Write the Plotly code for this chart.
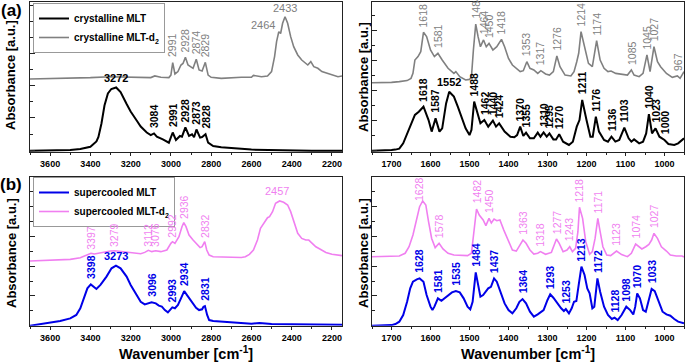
import numpy as np
import plotly.graph_objects as go

# ---------------- data (wavenumber in cm-1, absorbance in a.u.) ----------------
# (a) left: crystalline MLT (black)
tl_black_wn = [3700, 3600, 3500, 3450, 3400, 3370, 3360, 3345, 3330, 3313, 3296, 3272, 3250, 3220, 3200,
               3170, 3150, 3120, 3100, 3084, 3070, 3040, 3010, 2991, 2975, 2955, 2945, 2928, 2910, 2895,
               2885, 2873, 2855, 2845, 2828, 2815, 2790, 2750, 2700, 2650, 2600, 2500, 2400, 2300, 2150]
tl_black_abs = [0.9, 1.1, 1.3, 2.0, 3.5, 7.0, 10.0, 19.0, 31.0, 39.0, 42.0, 43.0, 40.0, 32.0, 27.0,
                21.0, 17.0, 13.0, 11.3, 12.4, 10.2, 8.4, 6.2, 13.0, 8.0, 10.7, 10.2, 16.4, 10.7, 11.8,
                9.8, 15.0, 9.6, 10.0, 11.8, 6.2, 4.0, 3.1, 2.4, 2.2, 1.6, 1.3, 1.1, 0.9, 0.9]
# (a) left: crystalline MLT-d2 (gray)
tl_gray_wn = [3700, 3600, 3500, 3400, 3300, 3200, 3100, 3080, 3050, 3010, 3000, 2991, 2980, 2965, 2950,
              2940, 2928, 2915, 2900, 2890, 2874, 2860, 2845, 2829, 2815, 2800, 2750, 2700, 2650, 2600,
              2590, 2550, 2520, 2500, 2485, 2475, 2464, 2455, 2445, 2433, 2420, 2405, 2390, 2370, 2350,
              2320, 2305, 2290, 2270, 2250, 2200, 2170, 2150]
tl_gray_abs = [48.7, 48.9, 49.3, 49.6, 50.2, 49.8, 49.6, 50.7, 49.8, 49.6, 51.3, 59.6, 52.0, 53.6, 58.0,
               59.0, 63.1, 58.0, 56.9, 55.8, 61.8, 54.7, 54.0, 59.8, 51.3, 49.8, 49.1, 49.6, 49.8, 49.8,
               51.1, 50.2, 50.7, 53.6, 63.6, 73.6, 80.2, 79.0, 85.8, 90.2, 85.8, 76.9, 70.2, 64.7, 61.3,
               58.0, 60.2, 56.9, 55.8, 53.6, 51.3, 50.2, 50.7]

# (a) right: crystalline MLT (black)
tr_black_wn = [1750, 1720, 1700, 1690, 1680, 1670, 1660, 1650, 1640, 1630, 1618, 1605, 1597, 1587, 1577,
               1570, 1560, 1552, 1540, 1530, 1520, 1510, 1500, 1495, 1488, 1480, 1472, 1462, 1452, 1440,
               1432, 1424, 1410, 1395, 1385, 1378, 1370, 1362, 1355, 1345, 1335, 1325, 1318, 1310, 1302,
               1295, 1285, 1278, 1270, 1260, 1245, 1235, 1225, 1218, 1211, 1200, 1190, 1184, 1176, 1168,
               1155, 1145, 1136, 1126, 1116, 1103, 1092, 1085, 1078, 1065, 1055, 1047, 1040, 1032, 1023,
               1013, 1000, 990, 975, 965, 955, 950]
tr_black_abs = [0.9, 0.9, 1.3, 1.6, 2.2, 5.8, 12.4, 19.1, 24.7, 26.9, 30.2, 21.3, 13.6, 22.4, 13.6,
                15.8, 32.4, 40.2, 36.9, 30.2, 22.4, 15.8, 11.3, 14.7, 33.6, 25.8, 19.1, 21.3, 16.9, 20.9,
                16.9, 19.1, 13.6, 10.2, 9.8, 11.3, 16.9, 10.7, 12.9, 9.1, 9.1, 12.9, 10.2, 13.1, 10.2,
                12.4, 8.4, 8.4, 11.8, 6.9, 4.7, 6.9, 16.9, 21.3, 34.7, 21.3, 10.2, 10.2, 23.6, 13.6,
                8.0, 6.9, 10.2, 6.9, 8.0, 16.2, 9.1, 6.9, 8.4, 5.8, 6.9, 12.4, 25.3, 12.4, 15.8,
                10.2, 8.0, 5.3, 4.7, 5.8, 8.4, 9.1]
# (a) right: crystalline MLT-d2 (gray)
tr_gray_wn = [1750, 1720, 1700, 1680, 1660, 1650, 1645, 1640, 1632, 1625, 1618, 1610, 1600, 1590, 1581,
              1570, 1555, 1540, 1535, 1525, 1510, 1500, 1495, 1490, 1484, 1478, 1472, 1464, 1457, 1450,
              1440, 1430, 1418, 1410, 1400, 1390, 1380, 1370, 1362, 1353, 1345, 1335, 1325, 1317, 1305,
              1295, 1285, 1276, 1268, 1255, 1240, 1232, 1225, 1220, 1214, 1205, 1195, 1185, 1174, 1165,
              1155, 1145, 1137, 1125, 1110, 1095, 1085, 1078, 1065, 1055, 1045, 1037, 1027, 1018, 1010,
              995, 980, 967, 960, 955, 950]
tr_gray_abs = [46.2, 46.2, 46.4, 46.9, 47.6, 49.1, 52.4, 61.3, 63.6, 66.9, 79.8, 76.9, 68.0, 63.6, 65.8,
               61.3, 55.8, 52.4, 53.6, 50.2, 48.0, 48.4, 50.2, 68.0, 85.3, 76.9, 70.2, 74.7, 70.2, 72.4,
               68.0, 70.2, 75.1, 70.2, 62.4, 58.0, 55.8, 53.6, 54.2, 60.2, 55.8, 54.7, 52.4, 54.2, 52.0,
               51.3, 53.6, 64.0, 56.9, 51.3, 50.7, 53.6, 60.2, 65.8, 80.2, 70.2, 59.1, 56.9, 74.2, 61.3,
               55.8, 53.6, 54.0, 52.4, 52.0, 51.3, 54.7, 51.3, 50.2, 52.4, 64.7, 53.6, 70.2, 60.2, 56.9,
               52.4, 49.8, 50.7, 49.1, 51.3, 53.6]

# (b) left: supercooled MLT (blue)
bl_blue_wn = [3700, 3650, 3600, 3550, 3500, 3470, 3450, 3430, 3415, 3398, 3385, 3370, 3350, 3320, 3295,
              3273, 3250, 3220, 3200, 3170, 3150, 3130, 3110, 3096, 3075, 3060, 3045, 3030, 3015, 3005,
              2993, 2980, 2965, 2950, 2934, 2920, 2905, 2890, 2875, 2860, 2845, 2838, 2831, 2820, 2810,
              2790, 2750, 2700, 2650, 2600, 2560, 2500, 2400, 2300, 2150]
bl_blue_abs = [0.0, 0.9, 2.2, 3.1, 4.9, 7.2, 11.7, 19.5, 25.1, 27.8, 26.2, 24.7, 27.4, 33.0, 38.6,
               40.4, 38.6, 33.0, 27.4, 20.6, 16.1, 14.3, 15.0, 15.7, 15.0, 13.5, 12.8, 10.5, 9.0, 10.5,
               12.3, 11.7, 13.9, 18.4, 23.3, 20.6, 17.9, 15.0, 12.1, 10.5, 11.0, 12.8, 13.2, 7.2, 3.8,
               3.1, 2.7, 2.2, 1.8, 1.3, 1.8, 1.1, 0.9, 0.9, 0.7]
# (b) left: supercooled MLT-d2 (pink)
bl_pink_wn = [3700, 3650, 3600, 3550, 3500, 3450, 3420, 3397, 3380, 3350, 3300, 3279, 3250, 3200, 3150,
              3130, 3112, 3095, 3076, 3050, 3020, 3000, 2992, 2980, 2960, 2945, 2936, 2925, 2910, 2890,
              2870, 2855, 2845, 2840, 2832, 2822, 2810, 2790, 2750, 2700, 2650, 2630, 2610, 2590, 2570,
              2555, 2535, 2520, 2510, 2495, 2480, 2460, 2440, 2420, 2405, 2390, 2370, 2350, 2330, 2315,
              2300, 2280, 2260, 2230, 2200, 2170, 2150]
bl_pink_abs = [43.5, 43.7, 43.9, 44.2, 44.6, 45.7, 47.5, 48.7, 48.2, 49.1, 50.2, 50.4, 50.0, 49.1, 48.4,
               49.3, 50.7, 49.8, 50.4, 49.8, 50.9, 55.4, 56.5, 55.4, 59.9, 66.6, 69.3, 66.6, 61.0, 57.6,
               54.3, 52.5, 53.1, 54.7, 56.5, 50.9, 47.5, 46.4, 46.2, 45.9, 45.9, 46.4, 48.0, 50.9, 57.6,
               65.5, 70.0, 72.6, 73.3, 76.7, 82.3, 83.9, 83.0, 81.2, 76.7, 70.0, 62.1, 58.7, 57.6, 57.6,
               55.4, 53.1, 51.6, 49.3, 48.0, 47.5, 47.1]

# (b) right: supercooled MLT (blue)
br_blue_wn = [1750, 1720, 1700, 1690, 1680, 1670, 1660, 1652, 1645, 1635, 1628, 1618, 1610, 1600, 1595,
              1590, 1581, 1572, 1560, 1545, 1535, 1525, 1515, 1505, 1498, 1492, 1484, 1478, 1472, 1465,
              1452, 1445, 1437, 1430, 1420, 1410, 1400, 1390, 1380, 1372, 1364, 1355, 1345, 1335, 1325,
              1310, 1300, 1293, 1285, 1275, 1265, 1258, 1253, 1245, 1238, 1232, 1226, 1220, 1213, 1205,
              1198, 1192, 1185, 1180, 1172, 1165, 1155, 1145, 1135, 1128, 1120, 1110, 1098, 1088, 1080,
              1075, 1070, 1063, 1055, 1048, 1040, 1033, 1025, 1015, 1005, 995, 985, 975, 965, 950]
br_blue_abs = [0.0, 0.2, 0.4, 1.1, 2.7, 7.2, 16.1, 25.1, 29.6, 31.2, 31.8, 29.6, 20.6, 12.8, 10.5,
               12.8, 18.4, 16.8, 19.5, 22.4, 23.3, 22.4, 18.4, 12.8, 11.0, 16.1, 35.9, 27.4, 19.5, 20.6,
               25.1, 26.2, 31.8, 29.6, 22.9, 15.0, 10.5, 8.3, 11.7, 16.1, 17.9, 15.0, 9.4, 6.1, 7.6,
               10.5, 17.3, 21.1, 18.8, 15.0, 11.7, 9.9, 11.2, 8.3, 11.7, 16.1, 16.6, 27.4, 39.7, 34.1,
               25.1, 21.7, 11.7, 12.8, 31.8, 22.9, 12.8, 7.2, 4.5, 5.4, 3.8, 7.2, 12.8, 10.5, 7.6,
               12.8, 21.7, 18.4, 10.5, 9.4, 18.4, 24.7, 23.3, 16.1, 9.4, 7.6, 6.7, 4.5, 2.7, 1.6]
# (b) right: supercooled MLT-d2 (pink)
br_pink_wn = [1750, 1720, 1700, 1680, 1665, 1655, 1645, 1635, 1628, 1620, 1612, 1605, 1597, 1588, 1578,
              1568, 1555, 1540, 1520, 1505, 1495, 1490, 1482, 1475, 1465, 1458, 1450, 1444, 1437, 1430,
              1422, 1412, 1400, 1390, 1380, 1370, 1363, 1355, 1345, 1335, 1325, 1318, 1305, 1290, 1280,
              1277, 1270, 1260, 1250, 1243, 1236, 1228, 1222, 1218, 1210, 1202, 1192, 1185, 1178, 1171,
              1165, 1158, 1148, 1138, 1123, 1110, 1095, 1085, 1074, 1066, 1058, 1048, 1040, 1033, 1027,
              1018, 1008, 995, 985, 970, 955, 950]
br_pink_abs = [46.4, 46.4, 46.4, 46.9, 48.7, 53.1, 61.0, 72.2, 80.0, 83.9, 81.2, 70.0, 58.7, 52.5, 55.4,
               51.6, 48.7, 47.5, 47.3, 47.1, 48.7, 61.0, 78.5, 74.4, 71.1, 67.3, 72.2, 69.1, 71.7, 70.6,
               71.1, 64.3, 56.5, 50.9, 50.2, 54.3, 57.6, 55.4, 50.9, 48.2, 48.7, 49.8, 48.0, 49.3, 55.4,
               58.3, 55.4, 49.8, 50.9, 53.1, 49.8, 52.0, 63.2, 79.6, 72.2, 56.5, 48.0, 49.8, 58.7, 72.2,
               63.2, 53.1, 47.5, 47.1, 50.2, 47.8, 46.4, 48.7, 54.9, 53.1, 51.6, 53.1, 54.7, 57.6, 62.1,
               58.7, 53.1, 50.2, 47.5, 46.9, 46.9, 46.2]

# ---------------- peak labels ----------------
tl_black_peaks = [3084, 2991, 2928, 2873, 2828]
tl_black_peaks_h = [3272]
tl_gray_peaks = [2991, 2928, 2874, 2829]
tl_gray_peaks_h = [2433]
tl_gray_peaks_side = [2464]
tr_black_peaks = [1618, 1587, 1488, 1462, 1440, 1424, 1370, 1355, 1310, 1295, 1270, 1211, 1176, 1136,
                  1103, 1040, 1023, 1000]
tr_black_peaks_h = [1552]
tr_gray_peaks = [1618, 1581, 1484, 1464, 1450, 1418, 1353, 1317, 1276, 1214, 1174, 1085, 1045, 1027, 967]
bl_blue_peaks = [3398, 3096, 2993, 2934, 2831]
bl_blue_peaks_h = [3273]
bl_pink_peaks = [3397, 3279, 3112, 3076, 2992, 2936, 2832]
bl_pink_peaks_h = [2457]
br_blue_peaks = [1628, 1581, 1535, 1484, 1437, 1364, 1293, 1253, 1213, 1172, 1128, 1098, 1070, 1033]
br_pink_peaks = [1628, 1578, 1482, 1450, 1363, 1318, 1277, 1243, 1218, 1171, 1123, 1074, 1027]

legend_names = ["crystalline MLT", "crystalline MLT-d<sub>2</sub>",
                "supercooled MLT", "supercooled MLT-d<sub>2</sub>"]

# ---------------- styling ----------------
FONT = "Liberation Sans, Arial, sans-serif"
BLACK = "#000000"
GRAY = "#808080"
BLUE = "#0000e8"
PINK = "#f07ff0"

W, H = 685, 363
def px(x):
    return x / W
def py(y):
    return 1 - y / H

fig = go.Figure()

def add_line(wn, ab, color, width, xa, ya, name, legend):
    fig.add_trace(go.Scatter(x=wn, y=ab, mode="lines", line=dict(color=color, width=width),
                             xaxis=xa, yaxis=ya, name=name, legend=legend, showlegend=name is not None,
                             hoverinfo="skip"))

add_line(tl_black_wn, tl_black_abs, BLACK, 2, "x", "y", "<b>" + legend_names[0] + "</b>", "legend")
add_line(tl_gray_wn, tl_gray_abs, GRAY, 1.6, "x", "y", "<b>" + legend_names[1] + "</b>", "legend")
add_line(tr_black_wn, tr_black_abs, BLACK, 2, "x2", "y2", None, "legend")
add_line(tr_gray_wn, tr_gray_abs, GRAY, 1.6, "x2", "y2", None, "legend")
add_line(bl_blue_wn, bl_blue_abs, BLUE, 2, "x3", "y3", "<b>" + legend_names[2] + "</b>", "legend2")
add_line(bl_pink_wn, bl_pink_abs, PINK, 1.6, "x3", "y3", "<b>" + legend_names[3] + "</b>", "legend2")
add_line(br_blue_wn, br_blue_abs, BLUE, 2, "x4", "y4", None, "legend2")
add_line(br_pink_wn, br_pink_abs, PINK, 1.6, "x4", "y4", None, "legend2")

annotations = []

def peak_y(wn, ab, p):
    return float(np.interp(p, wn[::-1], ab[::-1]))

def vlabels(peaks, wn, ab, color, bold, xr, yr, gap=2.2):
    for p in peaks:
        t = str(p)
        if bold:
            t = "<b>" + t + "</b>"
        annotations.append(dict(x=p, y=peak_y(wn, ab, p) + gap, xref=xr, yref=yr, text=t,
                                textangle=-90, showarrow=False, xanchor="center", yanchor="bottom",
                                font=dict(family=FONT, size=10.5, color=color)))

def hlabels(peaks, wn, ab, color, bold, xr, yr, gap=1.0, dx=0, anchor="center"):
    for p in peaks:
        t = str(p)
        if bold:
            t = "<b>" + t + "</b>"
        annotations.append(dict(x=p + dx, y=peak_y(wn, ab, p) + gap, xref=xr, yref=yr, text=t,
                                showarrow=False, xanchor=anchor, yanchor="bottom",
                                font=dict(family=FONT, size=11, color=color)))

vlabels(tl_black_peaks, tl_black_wn, tl_black_abs, BLACK, True, "x", "y")
hlabels(tl_black_peaks_h, tl_black_wn, tl_black_abs, BLACK, True, "x", "y")
vlabels(tl_gray_peaks, tl_gray_wn, tl_gray_abs, GRAY, False, "x", "y")
hlabels(tl_gray_peaks_h, tl_gray_wn, tl_gray_abs, GRAY, False, "x", "y", gap=0.5)
hlabels(tl_gray_peaks_side, tl_gray_wn, tl_gray_abs, GRAY, False, "x", "y", gap=-1.0, dx=8, anchor="right")
vlabels(tr_black_peaks, tr_black_wn, tr_black_abs, BLACK, True, "x2", "y2")
hlabels(tr_black_peaks_h, tr_black_wn, tr_black_abs, BLACK, True, "x2", "y2")
vlabels(tr_gray_peaks, tr_gray_wn, tr_gray_abs, GRAY, False, "x2", "y2")
vlabels(bl_blue_peaks, bl_blue_wn, bl_blue_abs, BLUE, True, "x3", "y3")
hlabels(bl_blue_peaks_h, bl_blue_wn, bl_blue_abs, BLUE, True, "x3", "y3")
vlabels(bl_pink_peaks, bl_pink_wn, bl_pink_abs, PINK, False, "x3", "y3", gap=1.0)
hlabels(bl_pink_peaks_h, bl_pink_wn, bl_pink_abs, PINK, False, "x3", "y3", gap=1.5, dx=15)
vlabels(br_blue_peaks, br_blue_wn, br_blue_abs, BLUE, True, "x4", "y4")
vlabels(br_pink_peaks, br_pink_wn, br_pink_abs, PINK, False, "x4", "y4")

# panel letters and axis titles
for txt, x, y in [("(a)", 11, 11), ("(b)", 11, 184)]:
    annotations.append(dict(x=px(x), y=py(y), xref="paper", yref="paper", text="<b>" + txt + "</b>",
                            showarrow=False, xanchor="center", yanchor="middle",
                            font=dict(family=FONT, size=17, color=BLACK)))
for x, y in [(11, 75), (363, 77), (11, 253), (363, 253)]:
    annotations.append(dict(x=px(x), y=py(y), xref="paper", yref="paper", text="<b>Absorbance [a.u.]</b>",
                            textangle=-90, showarrow=False, xanchor="center", yanchor="middle",
                            font=dict(family=FONT, size=13, color=BLACK)))
for x in [186, 528]:
    annotations.append(dict(x=px(x), y=py(342), xref="paper", yref="paper",
                            text="<b>Wavenumber [cm<sup>-1</sup>]</b>",
                            showarrow=False, xanchor="center", yanchor="top",
                            font=dict(family=FONT, size=14.5, color=BLACK)))

left_dom = [px(30), px(342)]
right_dom = [px(372), px(684)]
top_dom = [py(152), py(2)]
bot_dom = [py(325.7), py(177)]

def xax(dom, rng, dtick, anchor):
    return dict(domain=dom, range=rng, anchor=anchor, showline=True, mirror=True, linecolor="#222",
                linewidth=1, ticks="outside", ticklen=3, tickcolor="#222", dtick=dtick,
                tickfont=dict(family=FONT, size=9, color=BLACK, weight="bold"),
                minor=dict(ticks="outside", ticklen=2, dtick=dtick / 2, tickcolor="#222"),
                showgrid=False, zeroline=False, fixedrange=True)

def yax(dom, tick0, dtick, anchor):
    return dict(domain=dom, range=[0, 100], anchor=anchor, showline=True, mirror=True, linecolor="#222",
                linewidth=1, ticks="inside", ticklen=5, tickcolor="#222", tick0=tick0, dtick=dtick,
                showticklabels=False,
                minor=dict(ticks="inside", ticklen=3, tick0=tick0, dtick=dtick / 2, tickcolor="#222"),
                showgrid=False, zeroline=False, fixedrange=True)

fig.update_layout(
    width=W, height=H, margin=dict(l=0, r=0, t=0, b=0),
    paper_bgcolor="white", plot_bgcolor="white",
    xaxis=xax(left_dom, [3700, 2150], 200, "y"),
    yaxis=yax(top_dom, 1.3, 21.4, "x"),
    xaxis2=xax(right_dom, [1750, 950], 100, "y2"),
    yaxis2=yax(top_dom, 0.7, 20, "x2"),
    xaxis3=xax(left_dom, [3700, 2150], 200, "y3"),
    yaxis3=yax(bot_dom, 0, 20, "x3"),
    xaxis4=xax(right_dom, [1750, 950], 100, "y4"),
    yaxis4=yax(bot_dom, 0, 20, "x4"),
    legend=dict(x=px(33), y=py(3), xanchor="left", yanchor="top", bordercolor="#999", borderwidth=1,
                bgcolor="white", font=dict(family=FONT, size=10, color=BLACK), tracegroupgap=0,
                itemwidth=30),
    legend2=dict(x=px(33), y=py(177), xanchor="left", yanchor="top", bordercolor="#999", borderwidth=1,
                 bgcolor="white", font=dict(family=FONT, size=10, color=BLACK), tracegroupgap=0,
                 itemwidth=30),
    annotations=annotations,
    showlegend=True,
    hovermode=False,
)

fig.write_html("out.html", config={"displayModeBar": False},
               post_script="document.body.style.margin='0';document.body.style.overflow='hidden';")
